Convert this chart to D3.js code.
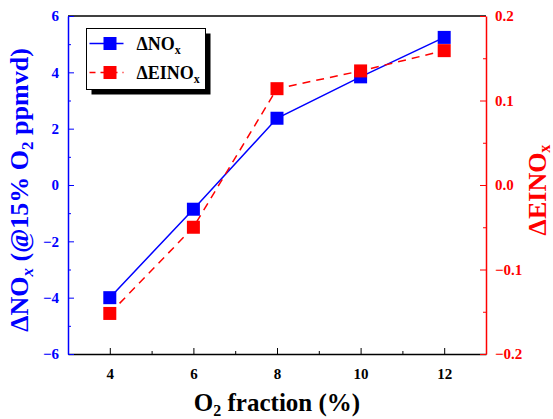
<!DOCTYPE html>
<html>
<head>
<meta charset="utf-8">
<script src="https://cdn.jsdelivr.net/npm/d3@7"></script>
<style>
  body { margin: 0; background: #fff; }
  svg text { font-family: "Liberation Serif", "Times New Roman", serif; font-weight: bold; }
</style>
</head>
<body>
<div id="chart"></div>
<script>
// data
var o2 = [4, 6, 8, 10, 12];
var dNOx = [-4.0, -0.86, 2.37, 3.84, 5.24];
var dEINOx = [-0.152, -0.05, 0.114, 0.135, 0.159];
var xTicks = [4, 6, 8, 10, 12];
var yLeftTicks = [-6, -4, -2, 0, 2, 4, 6];
var yRightTicks = [-0.2, -0.1, 0.0, 0.1, 0.2];

var W = 553, H = 419;
var margin = {top: 16, right: 67, bottom: 65, left: 68},
    width = W - margin.left - margin.right,
    height = H - margin.top - margin.bottom;

var svg = d3.select("#chart").append("svg")
    .attr("width", W)
    .attr("height", H)
  .append("g")
    .attr("transform", "translate(" + margin.left + "," + margin.top + ")");

var x = d3.scaleLinear().domain([3, 13]).range([0, width]);
var yL = d3.scaleLinear().domain([-6, 6]).range([height, 0]);
var yR = d3.scaleLinear().domain([-0.2, 0.2]).range([height, 0]);

var blue = "#0000ff", red = "#ff0000";

// minor ticks first
svg.append("g")
    .attr("transform", "translate(0," + height + ")")
    .call(d3.axisBottom(x).tickValues([5, 7, 9, 11]).tickSize(-3).tickFormat(""))
    .call(g => g.select(".domain").remove());
svg.append("g")
    .call(d3.axisLeft(yL).tickValues([-5, -3, -1, 1, 3, 5]).tickSize(-3).tickFormat(""))
    .call(g => g.select(".domain").remove())
    .selectAll("line").attr("stroke", blue);
svg.append("g")
    .attr("transform", "translate(" + width + ",0)")
    .call(d3.axisRight(yR).tickValues([-0.15, -0.05, 0.05, 0.15]).tickSize(-3).tickFormat(""))
    .call(g => g.select(".domain").remove())
    .selectAll("line").attr("stroke", red);

// top frame line
svg.append("line")
    .attr("x1", 0).attr("x2", width).attr("y1", 0).attr("y2", 0)
    .attr("stroke", "#000").attr("stroke-width", 1.5);

// bottom axis
var xAxis = svg.append("g")
    .attr("transform", "translate(0," + height + ")")
    .call(d3.axisBottom(x).tickValues(xTicks).tickSizeInner(-6).tickSizeOuter(0).tickPadding(14));
xAxis.select(".domain").attr("stroke-width", 1.5);
xAxis.selectAll("text").style("font-size", "15px").attr("fill", "#000");

// left axis
var yAxisL = svg.append("g")
    .call(d3.axisLeft(yL).tickValues(yLeftTicks).tickSizeInner(-6).tickSizeOuter(0).tickPadding(9).tickFormat(d3.format("d")));
yAxisL.select(".domain").attr("stroke", blue).attr("stroke-width", 1.5);
yAxisL.selectAll("line").attr("stroke", blue);
yAxisL.selectAll("text").style("font-size", "15px").attr("fill", blue);

// right axis
var yAxisR = svg.append("g")
    .attr("transform", "translate(" + width + ",0)")
    .call(d3.axisRight(yR).tickValues(yRightTicks).tickSizeInner(-6).tickSizeOuter(0).tickPadding(9).tickFormat(d3.format(".1f")));
yAxisR.select(".domain").attr("stroke", red).attr("stroke-width", 1.5);
yAxisR.selectAll("line").attr("stroke", red);
yAxisR.selectAll("text").style("font-size", "15px").attr("fill", red);

// lines
var lineL = d3.line().x((d, i) => x(o2[i])).y(d => yL(d));
var lineR = d3.line().x((d, i) => x(o2[i])).y(d => yR(d));

svg.append("path").datum(dNOx)
    .attr("d", lineL).attr("fill", "none")
    .attr("stroke", blue).attr("stroke-width", 1.5);
svg.append("path").datum(dEINOx)
    .attr("d", lineR).attr("fill", "none")
    .attr("stroke", red).attr("stroke-width", 1.5)
    .attr("stroke-dasharray", "8,6");

var s = 13;
svg.selectAll(".sqL").data(dNOx).enter().append("rect")
    .attr("x", (d, i) => x(o2[i]) - s / 2)
    .attr("y", d => yL(d) - s / 2)
    .attr("width", s).attr("height", s).attr("fill", blue);
svg.selectAll(".sqR").data(dEINOx).enter().append("rect")
    .attr("x", (d, i) => x(o2[i]) - s / 2)
    .attr("y", d => yR(d) - s / 2)
    .attr("width", s).attr("height", s).attr("fill", red);

// axis titles
var xt = svg.append("text")
    .attr("x", width / 2)
    .attr("y", height + 57)
    .attr("text-anchor", "middle")
    .style("font-size", "25px")
    .attr("fill", "#000");
xt.append("tspan").text("O");
xt.append("tspan").text("2").style("font-size", "16px").attr("dy", 5);
xt.append("tspan").text(" fraction (%)").attr("dy", -5);

var ylt = svg.append("text")
    .attr("transform", "translate(" + (-40) + "," + (height / 2 + 5) + ") rotate(-90)")
    .attr("text-anchor", "middle")
    .style("font-size", "26px")
    .attr("fill", blue);
ylt.append("tspan").text("ΔNO");
ylt.append("tspan").text("x").style("font-size", "17px").style("font-style", "italic").attr("dy", 5);
ylt.append("tspan").text(" (@15% O").attr("dy", -5);
ylt.append("tspan").text("2").style("font-size", "17px").attr("dy", 5);
ylt.append("tspan").text(" ppmvd)").attr("dy", -5);

var yrt = svg.append("text")
    .attr("transform", "translate(" + (width + 60) + "," + (height / 2 + 5) + ") rotate(-90)")
    .attr("text-anchor", "middle")
    .style("font-size", "26px")
    .attr("fill", red);
yrt.append("tspan").text("ΔEINO");
yrt.append("tspan").text("x").style("font-size", "16px").attr("dy", 4);

// legend
var lg = svg.append("g").attr("transform", "translate(" + (86.5 - margin.left) + "," + (28.5 - margin.top) + ")");
var lw = 119, lh = 61;
lg.append("rect").attr("x", 5).attr("y", 5).attr("width", lw).attr("height", lh).attr("fill", "#000");
lg.append("rect").attr("width", lw).attr("height", lh).attr("fill", "#fff").attr("stroke", "#000").attr("stroke-width", 1);

var items = [
  {label: "ΔNO", color: blue, dash: null},
  {label: "ΔEINO", color: red, dash: "6,5"}
];
items.forEach(function(it, i) {
  var cy = 15 + i * 29;
  lg.append("line").attr("x1", 3).attr("x2", 37).attr("y1", cy).attr("y2", cy)
    .attr("stroke", it.color).attr("stroke-width", 1.5)
    .attr("stroke-dasharray", it.dash);
  lg.append("rect").attr("x", 23.5 - s / 2).attr("y", cy - s / 2)
    .attr("width", s).attr("height", s).attr("fill", it.color);
  var t = lg.append("text").attr("x", 50).attr("y", cy + 6)
    .style("font-size", "18px").attr("fill", "#000");
  t.append("tspan").text(it.label);
  t.append("tspan").text("x").style("font-size", "12px").attr("dy", 4);
});
</script>
</body>
</html>
